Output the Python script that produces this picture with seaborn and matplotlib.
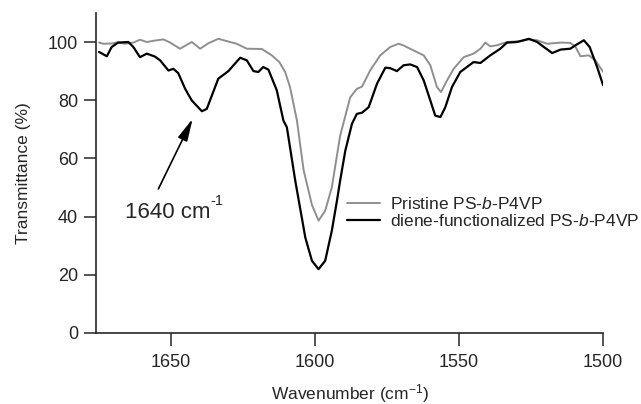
import pandas as pd
import matplotlib
matplotlib.use("Agg")
import matplotlib.pyplot as plt
import seaborn as sns

# Wavenumber (cm-1) / transmittance (%)
pristine_wn = [1675.0, 1673.5, 1670.6, 1668.4, 1666.0, 1663.1, 1660.8, 1658.4, 1655.6, 1652.7,
               1650.3, 1646.9, 1642.8, 1639.9, 1637.0, 1633.6, 1629.5, 1627.2, 1623.7, 1618.5,
               1615.0, 1612.4, 1610.4, 1608.7, 1606.3, 1604.0, 1602.3, 1601.1, 1598.8, 1596.5,
               1594.2, 1591.3, 1587.8, 1585.5, 1583.7, 1580.9, 1577.4, 1573.9, 1571.0, 1569.3,
               1565.8, 1562.3, 1560.0, 1557.7, 1556.3, 1554.2, 1551.9, 1548.4, 1545.0, 1542.6,
               1540.9, 1539.2, 1536.8, 1533.4, 1528.7, 1525.8, 1522.9, 1519.5, 1514.8, 1511.4,
               1509.6, 1507.9, 1505.0, 1502.7, 1500.0]
pristine_t = [99.8, 99.4, 99.5, 99.9, 99.4, 99.8, 100.8, 100.0, 100.5, 100.9,
              99.8, 97.7, 100.0, 97.7, 99.6, 101.1, 100.0, 99.4, 97.7, 97.6,
              95.4, 93.1, 89.7, 84.5, 73.0, 56.0, 49.0, 44.0, 38.6, 42.0,
              50.0, 67.8, 81.0, 83.9, 84.7, 90.2, 95.4, 98.3, 99.4, 98.8,
              97.1, 95.4, 92.0, 84.5, 82.8, 86.8, 90.8, 94.8, 96.0, 97.7,
              99.8, 98.5, 98.9, 100.0, 100.3, 100.9, 100.6, 99.4, 99.8, 99.7,
              98.3, 95.1, 95.4, 93.7, 89.7]

diene_wn = [1675.0, 1672.3, 1670.6, 1668.4, 1664.8, 1663.1, 1660.8, 1658.4, 1655.6, 1653.8,
            1650.9, 1649.2, 1647.5, 1645.1, 1642.8, 1639.3, 1637.6, 1633.6, 1630.1, 1626.0,
            1623.7, 1621.4, 1619.7, 1618.0, 1616.2, 1613.3, 1611.0, 1609.8, 1606.9, 1603.4,
            1601.1, 1598.8, 1596.5, 1594.2, 1592.4, 1591.3, 1589.5, 1587.2, 1585.5, 1583.7,
            1581.4, 1578.5, 1575.6, 1573.9, 1571.6, 1569.3, 1567.0, 1564.6, 1562.3, 1560.0,
            1558.3, 1556.5, 1554.8, 1552.5, 1549.6, 1547.3, 1545.0, 1542.6, 1539.2, 1535.7,
            1533.4, 1529.9, 1525.8, 1522.9, 1520.6, 1517.7, 1514.8, 1511.4, 1509.6, 1506.7,
            1504.7, 1502.1, 1500.0]
diene_t = [96.6, 95.1, 98.3, 99.8, 100.0, 98.3, 94.8, 96.0, 95.0, 93.7,
           90.2, 90.8, 89.3, 83.9, 79.9, 76.2, 77.0, 87.4, 90.0, 94.6,
           93.7, 90.0, 89.7, 91.4, 90.5, 83.4, 73.0, 70.7, 52.4, 32.8,
           24.8, 21.9, 24.8, 35.1, 45.5, 52.4, 62.7, 71.9, 75.3, 75.7,
           77.6, 85.7, 91.2, 91.0, 90.0, 92.0, 92.3, 91.4, 86.8, 79.9,
           74.7, 74.2, 77.6, 84.5, 89.7, 91.4, 93.1, 92.8, 95.4, 97.7,
           99.8, 100.0, 101.1, 100.0, 98.3, 96.2, 97.4, 97.7, 98.9, 100.6,
           98.3, 91.4, 85.1]

labels = ["Pristine PS-$\\it{b}$-P4VP", "diene-functionalized PS-$\\it{b}$-P4VP"]
colors = ["#8f8f8f", "#000000"]

sns.set_style("ticks")
plt.rcParams["font.family"] = ["Liberation Sans", "DejaVu Sans"]
plt.rcParams["mathtext.fontset"] = "custom"
plt.rcParams["mathtext.rm"] = "Liberation Sans"
plt.rcParams["mathtext.it"] = "Liberation Sans:italic"

pristine = pd.DataFrame({"wn": pristine_wn, "T": pristine_t})
diene = pd.DataFrame({"wn": diene_wn, "T": diene_t})

fig = plt.figure(figsize=(6.41, 4.04), dpi=100)
ax = fig.add_axes([0.150, 0.176, 0.791, 0.792])

sns.lineplot(data=pristine, x="wn", y="T", ax=ax, color=colors[0], lw=1.4,
             label=labels[0], sort=False)
sns.lineplot(data=diene, x="wn", y="T", ax=ax, color=colors[1], lw=1.6,
             label=labels[1], sort=False)

ax.set_xlim(1676, 1500)
ax.set_ylim(0, 110)
ax.set_xticks([1650, 1600, 1550, 1500])
ax.set_yticks([0, 20, 40, 60, 80, 100])
sns.despine(ax=ax)
for s in ["left", "bottom"]:
    ax.spines[s].set_linewidth(1.2)
ax.tick_params(direction="out", length=9, width=1.1, labelsize=13, pad=4)
ax.tick_params(axis="x", pad=6)

ax.set_xlabel("Wavenumber (cm$^{-1}$)", fontsize=12.5, labelpad=8)
ax.set_ylabel("Transmittance (%)", fontsize=12.5, labelpad=12)

# arrow pointing at the 1640 band, label below the tail
ax.annotate("", xy=(1642.5, 73.6), xytext=(1654.4, 49.5),
            arrowprops=dict(arrowstyle="-|>,head_length=0.75,head_width=0.17",
                            color="black", lw=1.2, shrinkA=0, shrinkB=0,
                            mutation_scale=18))
t = ax.text(1666.0, 39.5, "1640 cm", fontsize=16, ha="left", va="baseline")
ax.annotate("-1", xy=(1.0, 0.72), xycoords=t, fontsize=10.5, ha="left", va="bottom")

ax.legend(loc="upper left", bbox_to_anchor=(0.495, 0.428), frameon=False,
          fontsize=12.5, handlelength=1.9, handletextpad=0.55, labelspacing=0.05,
          borderpad=0, borderaxespad=0)

plt.savefig("out.png", dpi=100)
